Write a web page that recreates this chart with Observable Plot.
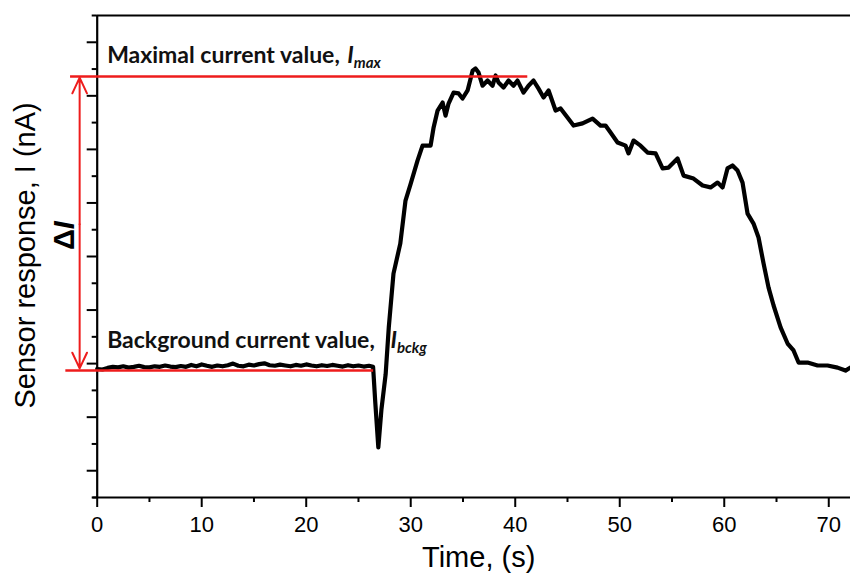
<!DOCTYPE html>
<html><head><meta charset="utf-8">
<script src="https://cdn.jsdelivr.net/npm/d3@7"></script>
<script src="https://cdn.jsdelivr.net/npm/@observablehq/plot@0.6"></script>
<style>body{margin:0;background:#fff;} #chart svg{display:block}</style>
</head><body><div id="chart"></div>
<script>
// Sensor response trace (time in s, response in arbitrary current units)
const timeS = [0,0.5,1,1.5,2,2.5,3,3.5,4,4.5,5,5.5,6,6.5,7,7.5,8,8.5,9,9.5,10,10.5,11,11.5,12,12.5,13,13.5,14,14.5,15,15.5,16,16.5,17,17.5,18,18.5,19,19.5,20,20.5,21,21.5,22,22.5,23,23.5,24,24.5,25,25.5,26,26.4,
  26.6,26.9,27.2,27.6,27.9,28.35,29.0,29.5,30.0,30.65,31.13,31.9,32.19,32.57,33.05,33.33,33.62,34.1,34.58,34.96,35.44,35.92,36.2,36.49,36.87,37.35,37.83,38.12,38.4,38.88,39.36,39.84,40.22,40.79,41.27,41.75,42.23,42.71,43.19,43.86,44.34,45.0,45.58,46.44,47.4,48.16,48.64,49.12,49.79,50.56,50.84,51.32,51.99,52.66,53.43,54.1,54.67,55.53,56.11,57.06,57.93,58.69,59.36,59.84,60.31,60.79,61.27,61.75,62.23,62.8,63.28,63.76,64.24,64.72,65.39,66.06,66.63,67.11,67.97,68.93,69.88,70.84,71.6,72.08];
const currentNA = [4.80,4.78,4.84,4.88,4.86,4.90,4.85,4.88,4.92,4.87,4.86,4.90,4.88,4.93,4.89,4.87,4.91,4.88,4.95,4.90,4.97,4.92,4.88,4.93,4.90,4.94,5.00,4.92,4.90,4.96,4.93,4.98,5.01,4.94,4.92,4.96,4.93,4.90,4.95,4.92,4.97,4.93,4.90,4.94,4.91,4.95,4.92,4.89,4.94,4.90,4.93,4.89,4.92,4.88,
  3.6,1.87,3.3,4.6,6.35,8.36,9.48,11.09,11.72,12.58,13.14,13.14,13.82,14.45,14.75,14.26,14.71,15.12,15.09,14.9,15.2,15.94,16.02,15.87,15.38,15.57,15.38,15.76,15.5,15.31,15.57,15.38,15.57,15.12,15.38,15.57,15.27,14.94,15.2,14.45,14.53,14.19,13.89,13.97,14.15,13.89,13.89,13.63,13.26,13.14,12.85,13.33,13.14,12.88,12.85,12.29,12.32,12.66,12.02,11.91,11.65,11.58,11.76,11.58,12.29,12.4,12.21,11.76,10.6,10.23,9.71,8.74,7.84,7.17,6.35,5.75,5.49,5.04,5.04,4.93,4.93,4.85,4.74,4.85];

const xMajorTicks = [0,10,20,30,40,50,60,70];
const xMinorTicks = [5,15,25,35,45,55,65];
const yMajorTicks = [1,3,5,7,9,11,13,15,17];
const yMinorTicks = [0,2,4,6,8,10,12,14,16,18];

const maxLevel = 15.72;    // I_max
const bckgLevel = 4.74;    // I_bckg
const maxLineEnd = 41.2;
const bckgLineEnd = 26.45;

const red = "#ee1c1c";
const curve = timeS.map((t, i) => ({t, v: currentNA[i]}));
const annoFont = "Lato, 'Open Sans', sans-serif";
const axisFont = "'Liberation Sans', Arial, sans-serif";

const chart = Plot.plot({
  width: 850, height: 577,
  marginLeft: 96.7, marginRight: 0, marginTop: 15, marginBottom: 80,
  x: {domain: [0, 72.08], axis: null, label: null},
  y: {domain: [0, 18], axis: null, label: null},
  style: {background: "white", fontFamily: axisFont, color: "#000"},
  marks: [
    Plot.axisX(xMajorTicks, {tickSize: 10, tickPadding: 9, strokeWidth: 2, fontSize: 22, label: null, tickFormat: d => String(d)}),
    Plot.axisX(xMinorTicks, {tickSize: 5, strokeWidth: 2, label: null, tickFormat: () => ""}),
    Plot.axisY(yMajorTicks, {tickSize: 10, strokeWidth: 2, label: null, tickFormat: () => ""}),
    Plot.axisY(yMinorTicks, {tickSize: 5, strokeWidth: 2, label: null, tickFormat: () => ""}),
    Plot.ruleY([0], {x1: -0.4, x2: 72.08, strokeWidth: 2.2}),
    Plot.ruleY([18], {x1: 0, x2: 72.08, strokeWidth: 2.2}),
    Plot.ruleX([0], {y1: 0, y2: 18, strokeWidth: 2.2}),
    Plot.line(curve, {x: "t", y: "v", stroke: "black", strokeWidth: 4.2, strokeLinejoin: "round"}),
    Plot.ruleY([maxLevel], {x1: -2.55, x2: maxLineEnd, stroke: red, strokeWidth: 2.6}),
    Plot.ruleY([bckgLevel], {x1: -3.0, x2: bckgLineEnd, stroke: red, strokeWidth: 2.6}),
    Plot.arrow([
      {x1: -1.68, y1: 10.2, x2: -1.68, y2: maxLevel - 0.04},
      {x1: -1.68, y1: 10.2, x2: -1.68, y2: bckgLevel + 0.08}
    ], {x1: "x1", y1: "y1", x2: "x2", y2: "y2", stroke: red, strokeWidth: 2, headLength: 13, headAngle: 50}),
    Plot.text(["Maximal current value, Imax"], {x: 0.95, y: 16.24, text: d => d, textAnchor: "start", lineAnchor: "bottom", fontSize: 23, fontWeight: "bold", fontFamily: annoFont, fill: "#111"}),
    Plot.text(["Background current value, Ibckg"], {x: 0.95, y: 5.60, text: d => d, textAnchor: "start", lineAnchor: "bottom", fontSize: 23, fontWeight: "bold", fontFamily: annoFont, fill: "#111"}),
    Plot.text(["ΔI"], {x: -3.13, y: 9.78, text: d => d, rotate: -90, fontSize: 29, fontWeight: "bold", fill: "#000"}),
    Plot.text(["Sensor response, I (nA)"], {x: -6.86, y: 9.04, text: d => d, rotate: -90, fontSize: 29, fill: "#000"}),
    Plot.text(["Time, (s)"], {x: 36.5, y: -2.6, text: d => d, lineAnchor: "bottom", fontSize: 29, fill: "#000"})
  ]
});

const svg = d3.select(chart);
function richText(match, parts) {
  svg.selectAll("text").filter(function() { return this.textContent === match; }).each(function() {
    const t = d3.select(this);
    t.text(null);
    parts.forEach(p => {
      const s = t.append("tspan").text(p.text);
      if (p.italic) s.attr("font-style", "italic");
      if (p.size) s.attr("font-size", p.size);
      if (p.dx != null) s.attr("dx", p.dx);
      if (p.dy != null) s.attr("dy", p.dy);
    });
  });
}
richText("Maximal current value, Imax", [
  {text: "Maximal current value, "}, {text: "I", italic: true, dx: 2}, {text: "max", italic: true, size: 15, dy: 5}
]);
richText("Background current value, Ibckg", [
  {text: "Background current value, "}, {text: "I", italic: true, dx: 10}, {text: "bckg", italic: true, size: 15, dy: 5}
]);
richText("ΔI", [{text: "Δ"}, {text: "I", italic: true}]);

document.getElementById("chart").appendChild(chart);
</script>
</body></html>
